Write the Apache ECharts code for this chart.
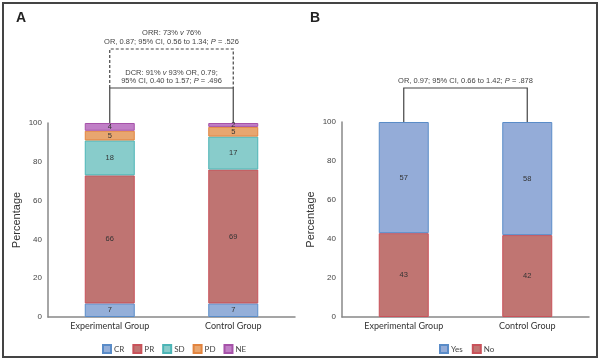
<!DOCTYPE html>
<html><head><meta charset="utf-8">
<script src="https://cdn.jsdelivr.net/npm/echarts@6/dist/echarts.min.js"></script>
<style>html,body{margin:0;padding:0;background:#fff}#c{width:600px;height:361px}</style>
</head><body><div id="c"></div>
<script>
const categories = ['Experimental Group', 'Control Group'];
const respNames = ['CR', 'PR', 'SD', 'PD', 'NE'];
const CR = [7, 7];
const PR = [66, 69];
const SD = [18, 17];
const PD = [5, 5];
const NE = [4, 2];
const bNames = ['Yes', 'No'];
const Yes = [57, 58];
const No = [43, 42];
const yTicks = [0, 20, 40, 60, 80, 100];
const textA1 = ['ORR: 73% {i|v} 76%', 'OR, 0.87; 95% CI, 0.56 to 1.34; {i|P} = .526'];
const textA2 = ['DCR: 91% {i|v} 93% OR, 0.79;', '95% CI, 0.40 to 1.57; {i|P} = .496'];
const textB = ['OR, 0.97; 95% CI, 0.66 to 1.42; {i|P} = .878'];

const FONT = 'Lato, "Open Sans", sans-serif';
const HFONT = '"Liberation Sans", Arial, sans-serif';
const fills = {CR:'#94afd9', PR:'#bf7472', SD:'#88cccb', PD:'#e8a66f', NE:'#c07fc6', Yes:'#94acd8', No:'#c07572'};
const borders = {CR:'#5a8cc8', PR:'#c9525a', SD:'#4cb5b6', PD:'#e2843f', NE:'#a652a9', Yes:'#5a8cc8', No:'#c9525a'};
const respData = {CR, PR, SD, PD, NE};
const bData = {Yes, No};

function yAx(idx) {
  return {
    gridIndex: idx, type: 'value', min: 0, max: 100, interval: 20,
    name: 'Percentage', nameLocation: 'middle', nameGap: 26, nameRotate: 90,
    nameTextStyle: {fontFamily: HFONT, fontSize: 11, color: '#333'},
    axisLine: {show: true, lineStyle: {color: '#888', width: 1.5}},
    axisTick: {show: false}, splitLine: {show: false},
    axisLabel: {fontFamily: HFONT, fontSize: 8, color: '#444', margin: 6}
  };
}
function xAx(idx) {
  return {
    gridIndex: idx, type: 'category', data: categories,
    axisLine: {lineStyle: {color: '#888', width: 1.5}},
    axisTick: {show: false},
    axisLabel: {fontFamily: FONT, fontSize: 9, color: '#333', margin: 5}
  };
}
function ser(name, data, xi, stack) {
  return {
    name, type: 'bar', stack, xAxisIndex: xi, yAxisIndex: xi, data, barWidth: 50,
    itemStyle: {color: fills[name], borderColor: borders[name], borderWidth: 1},
    label: {show: true, position: 'inside', fontFamily: HFONT, fontSize: 7.5, color: '#333'},
    emphasis: {disabled: true}
  };
}
const series = [];
respNames.forEach(n => series.push(ser(n, respData[n], 0, 'a')));
['No', 'Yes'].forEach(n => series.push(ser(n, bData[n], 1, 'b')));

const chart = echarts.init(document.getElementById('c'), null, {renderer: 'canvas'});
chart.setOption({
  animation: false,
  grid: [
    {left: 48, right: 305, top: 123, bottom: 44},
    {left: 342, right: 11, top: 122, bottom: 44}
  ],
  xAxis: [xAx(0), xAx(1)],
  yAxis: [yAx(0), yAx(1)],
  legend: [
    {data: respNames, left: 97, top: 339, itemWidth: 8, itemHeight: 8, itemGap: 8, icon: 'rect',
     textStyle: {fontFamily: FONT, fontSize: 8, color: '#444', padding: [0, 0, 0, -2]}, selectedMode: false},
    {data: bNames, left: 434, top: 339, itemWidth: 8, itemHeight: 8, itemGap: 9, icon: 'rect',
     textStyle: {fontFamily: FONT, fontSize: 8, color: '#444', padding: [0, 0, 0, -2]}, selectedMode: false}
  ],
  series
});

const px = (gi, cat, v) => chart.convertToPixel({xAxisIndex: gi, yAxisIndex: gi}, [cat, v]);
const a0 = px(0, 0, 100), a1 = px(0, 1, 100);
const b0 = px(1, 0, 100), b1 = px(1, 1, 100);
const rich = {i: {fontStyle: 'italic', fontFamily: HFONT, fontSize: 7.5, fill: '#444'}};
function txt(x, y, s) {
  return {type: 'text', x, y, style: {text: s, fontFamily: HFONT, fontSize: 7.5, fill: '#444', align: 'center', verticalAlign: 'middle', rich}};
}
const aMid = (a0[0] + a1[0]) / 2, bMid = (b0[0] + b1[0]) / 2;
const yS = a0[1] - 35, yD = a0[1] - 74;
const ybS = b0[1] - 34;
const els = [
  {type: 'rect', shape: {x: 3, y: 3, width: 594, height: 354}, style: {fill: 'none', stroke: '#444', lineWidth: 2}},
  {type: 'text', x: 16, y: 11, style: {text: 'A', fontFamily: HFONT, fontWeight: 'bold', fontSize: 14, fill: '#222'}},
  {type: 'text', x: 310, y: 11, style: {text: 'B', fontFamily: HFONT, fontWeight: 'bold', fontSize: 14, fill: '#222'}},
  {type: 'polyline', shape: {points: [[a0[0], a0[1]], [a0[0], yS], [a1[0], yS], [a1[0], a1[1]]]}, style: {stroke: '#444', lineWidth: 1.2, fill: 'none'}},
  {type: 'polyline', shape: {points: [[a0[0], yS], [a0[0], yD], [a1[0], yD], [a1[0], yS]]}, style: {stroke: '#444', lineWidth: 1.2, fill: 'none', lineDash: [3, 2]}},
  {type: 'polyline', shape: {points: [[b0[0], b0[1]], [b0[0], ybS], [b1[0], ybS], [b1[0], b1[1]]]}, style: {stroke: '#444', lineWidth: 1.2, fill: 'none'}},
  txt(aMid, yS - 15, textA2[0]), txt(aMid, yS - 7, textA2[1]),
  txt(aMid, yD - 16, textA1[0]), txt(aMid, yD - 7, textA1[1]),
  txt(bMid, ybS - 7, textB[0])
];
chart.setOption({graphic: els});
</script></body></html>
